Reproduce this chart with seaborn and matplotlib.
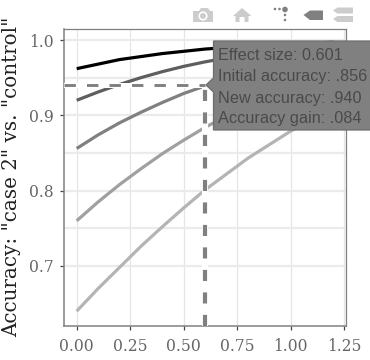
import pandas as pd
import matplotlib
matplotlib.use('Agg')
import matplotlib.pyplot as plt
import seaborn as sns
from matplotlib.patches import Polygon, Circle
from matplotlib.transforms import Affine2D

# Values
effect = [0.0, 0.1, 0.2, 0.3, 0.4, 0.5, 0.6, 0.7, 0.8, 0.9, 1.0, 1.1, 1.2]
acc_96 = [.962, .968, .974, .978, .982, .985, .988, .990, .992, .994, .995, .996, .997]
acc_92 = [.920, .931, .941, .950, .958, .965, .971, .976, .980, .984, .987, .989, .991]
acc_86 = [.856, .874, .890, .904, .917, .929, .939, .948, .956, .963, .969, .975, .979]
acc_76 = [.760, .785, .808, .829, .849, .867, .884, .899, .912, .925, .935, .945, .954]
acc_64 = [.640, .670, .698, .726, .752, .777, .801, .822, .843, .861, .879, .894, .908]

series_names = ['.962', '.920', '.856', '.760', '.640']
series_colors = ['#000000', '#5e5e5e', '#808080', '#a0a0a0', '#b4b4b4']

x_ticks = [0.0, 0.25, 0.5, 0.75, 1.0, 1.25]
y_ticks = [0.7, 0.8, 0.9, 1.0]
y_minor = [0.75, 0.85, 0.95]

hover_x = 0.601
hover_y = 0.940
hover_lines = ['Effect size: 0.601', 'Initial accuracy: .856',
               'New accuracy: .940', 'Accuracy gain: .084']

W, H = 370, 360

# Long table for seaborn
rows = []
for name, vals in zip(series_names, [acc_96, acc_92, acc_86, acc_76, acc_64]):
    rows.append(pd.DataFrame({'effect': effect, 'accuracy': vals, 'initial': name}))
df = pd.concat(rows, ignore_index=True)

sns.set_style('white')
plt.rcParams['lines.scale_dashes'] = False
fig = plt.figure(figsize=(W / 100, H / 100), dpi=100)
ax = fig.add_axes([63.5 / W, 1 - 325.7 / H, 282.5 / W, 297.2 / H])

sns.lineplot(data=df, x='effect', y='accuracy', hue='initial', hue_order=series_names,
             palette=series_colors, linewidth=2.3, errorbar=None, legend=False,
             solid_capstyle='butt', ax=ax, zorder=3)

ax.set_xlim(-0.0617, 1.259)
ax.set_ylim(0.6207, 1.0153)

# Grid
for v in x_ticks:
    ax.axvline(v, color='#e6e6e6', lw=0.9, zorder=1)
for v in y_ticks + y_minor:
    ax.axhline(v, color='#ebebeb', lw=1.6, zorder=1)

# Hover spikes, white underneath
ymin = ax.get_ylim()[0]
xmin = ax.get_xlim()[0]
ax.plot([xmin, hover_x], [hover_y, hover_y], color='white', lw=3.6, zorder=4)
ax.plot([hover_x, hover_x], [ymin, hover_y], color='white', lw=4.4, zorder=4)
ax.plot([xmin, hover_x], [hover_y, hover_y], color='#808080', lw=2.1,
        linestyle=(0, (8.2, 8.0)), zorder=5)
ax.plot([hover_x, hover_x], [ymin, hover_y], color='#808080', lw=3.0,
        linestyle=(0, (8.0, 8.2)), zorder=5)

ax.set_xticks(x_ticks)
ax.set_xticklabels(['0.00', '0.25', '0.50', '0.75', '1.00', '1.25'])
ax.set_yticks(y_ticks)
ax.set_yticklabels(['0.7', '0.8', '0.9', '1.0'])
ax.tick_params(axis='both', length=3, width=0.9, color='#444444', labelcolor='#666666',
               labelsize=11.2, left=True, bottom=True)
ax.tick_params(axis='x', pad=6)
ax.tick_params(axis='y', pad=4)
for lab in ax.get_xticklabels() + ax.get_yticklabels():
    lab.set_family('DejaVu Serif')
ax.set_xlabel('')
ax.set_ylabel('')
for side, sp in ax.spines.items():
    sp.set_color('#808080')
    sp.set_linewidth(1.1 if side in ('left', 'bottom') else 0.9)

fig.text(12 / W, 1 - 177 / H, 'Accuracy: "case 2" vs. "control"', rotation=90,
         family='DejaVu Serif', fontsize=14.3, color='#222222', ha='center', va='center')


# Helpers for things placed in picture pixels
def px(x, y):
    return (x / W, 1 - y / H)


def poly(points, color, **kw):
    fig.add_artist(Polygon([px(*p) for p in points], closed=True, facecolor=color,
                           edgecolor=kw.pop('edge', 'none'), transform=fig.transFigure, **kw))


def disc(x, y, r, color):
    fig.add_artist(Circle((x, H - y), r, facecolor=color, edgecolor='none',
                          transform=Affine2D()))


# Tooltip
poly([(213.5, 41), (372, 41), (372, 130), (213.5, 130), (213.5, 92), (206, 85), (213.5, 78)],
     '#808080', edge='#6e6e6e', linewidth=0.9)
for txt, yy in zip(hover_lines, [55, 76.5, 98, 119]):
    fig.text(218 / W, 1 - yy / H, txt, family='Liberation Sans', fontsize=11.7,
             color='#4a4a4a', ha='left', va='center')

# Toolbar icons
light = '#cccccc'
dark = '#808080'
poly([(193, 11), (199, 11), (201, 8), (208, 8), (210, 11), (213, 11), (213, 22), (193, 22)], light)
disc(203, 16, 4.6, 'white')
disc(203, 16, 3.0, light)
poly([(242, 8), (251.5, 16), (248.5, 16), (248.5, 22), (244.5, 22), (244.5, 17), (239.5, 17),
      (239.5, 22), (235.5, 22), (235.5, 16), (233, 16)], light)
disc(275, 9, 1.3, dark)
disc(279.5, 9, 1.3, dark)
disc(285, 9.5, 2.8, dark)
disc(285, 15, 1.3, dark)
disc(285, 20, 1.3, dark)
poly([(303.5, 15), (310, 10.5), (323, 10.5), (323, 20), (310, 20)], dark)
poly([(333, 10.5), (337.5, 7.5), (353, 7.5), (353, 13.5), (337.5, 13.5)], light)
poly([(333, 19), (337.5, 16), (353, 16), (353, 22), (337.5, 22)], light)

fig.savefig('out.png', dpi=100)
